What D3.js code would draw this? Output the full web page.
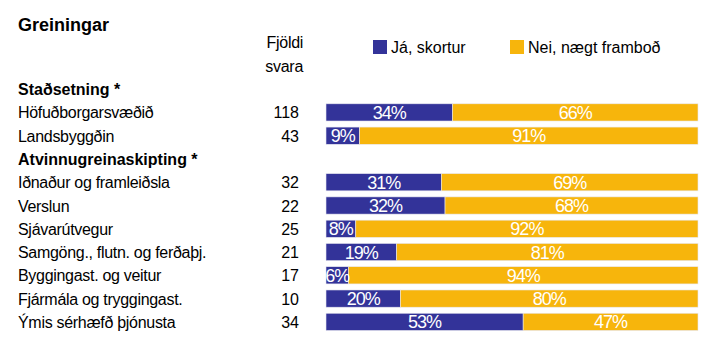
<!DOCTYPE html>
<html>
<head>
<meta charset="utf-8">
<script src="https://cdn.jsdelivr.net/npm/d3@7"></script>
<style>
  body { margin: 0; background: #fff; }
  text { font-family: "Liberation Sans", Arial, sans-serif; }
</style>
</head>
<body>
<script>
// rows in order, null count = group header
var labels = ["Staðsetning *", "Höfuðborgarsvæðið", "Landsbyggðin", "Atvinnugreinaskipting *",
    "Iðnaður og framleiðsla", "Verslun", "Sjávarútvegur", "Samgöng., flutn. og ferðaþj.",
    "Byggingast. og veitur", "Fjármála og tryggingast.", "Ýmis sérhæfð þjónusta"];
var counts = [null, 118, 43, null, 32, 22, 25, 21, 17, 10, 34];
var ja = [null, 34, 9, null, 31, 32, 8, 19, 6, 20, 53];
var nei = [null, 66, 91, null, 69, 68, 92, 81, 94, 80, 47];
var seriesNames = ["Já, skortur", "Nei, nægt framboð"];
var colors = ["#333399", "#f7b50c"];

var width = 710, height = 338;
var svg = d3.select("body").append("svg").attr("width", width).attr("height", height);

var y = d3.scaleBand().domain(d3.range(labels.length)).range([77.5, 333.5]).paddingInner(0.26).paddingOuter(0.13);
var x = d3.scaleLinear().domain([0, 100]).range([326, 698]);

svg.append("text").attr("x", 18).attr("y", 31).attr("font-size", 18).attr("font-weight", "bold").text("Greiningar");
svg.append("text").attr("x", 303).attr("y", 48).attr("font-size", 16).attr("letter-spacing", -0.3).attr("text-anchor", "end").text("Fjöldi");
svg.append("text").attr("x", 303).attr("y", 72).attr("font-size", 16).attr("letter-spacing", -0.3).attr("text-anchor", "end").text("svara");

// legend
var legX = [373, 510];
seriesNames.forEach(function (n, i) {
    svg.append("rect").attr("x", legX[i]).attr("y", 40).attr("width", 14).attr("height", 14).attr("fill", colors[i]);
    svg.append("text").attr("x", legX[i] + 18).attr("y", 53).attr("font-size", 16).text(n);
});

var rows = svg.selectAll("g.row").data(labels).enter().append("g").attr("class", "row");

rows.append("text")
    .attr("x", 18)
    .attr("y", function (d, i) { return y(i) + y.bandwidth() / 2 + 6; })
    .attr("font-size", 16)
    .attr("font-weight", function (d, i) { return counts[i] === null ? "bold" : "normal"; })
    .attr("letter-spacing", function (d, i) { return counts[i] === null ? 0 : -0.3; })
    .text(function (d) { return d; });

rows.filter(function (d, i) { return counts[i] !== null; }).append("text")
    .attr("x", 299)
    .attr("y", function (d) { var i = labels.indexOf(d); return y(i) + y.bandwidth() / 2 + 6; })
    .attr("font-size", 16)
    .attr("text-anchor", "end")
    .text(function (d) { return counts[labels.indexOf(d)]; });

var segs = [];
labels.forEach(function (d, i) {
    if (counts[i] === null) return;
    segs.push({ i: i, s: 0, x0: 0, v: ja[i] });
    segs.push({ i: i, s: 1, x0: ja[i], v: nei[i] });
});

svg.selectAll("rect.seg").data(segs).enter().append("rect")
    .attr("class", "seg")
    .attr("x", function (d) { return x(d.x0); })
    .attr("y", function (d) { return y(d.i); })
    .attr("width", function (d) { return x(d.x0 + d.v) - x(d.x0); })
    .attr("height", y.bandwidth())
    .attr("fill", function (d) { return colors[d.s]; })
    .attr("stroke", "#e8e8f0")
    .attr("stroke-width", 0.6);

svg.selectAll("text.pct").data(segs).enter().append("text")
    .attr("class", "pct")
    .attr("x", function (d) { return x(d.x0 + d.v / 2); })
    .attr("y", function (d) { return y(d.i) + y.bandwidth() / 2 + 6.5; })
    .attr("font-size", 18)
    .attr("letter-spacing", -1)
    .attr("text-anchor", "middle")
    .attr("fill", "#fff")
    .text(function (d) { return d.v + "%"; });
</script>
</body>
</html>
